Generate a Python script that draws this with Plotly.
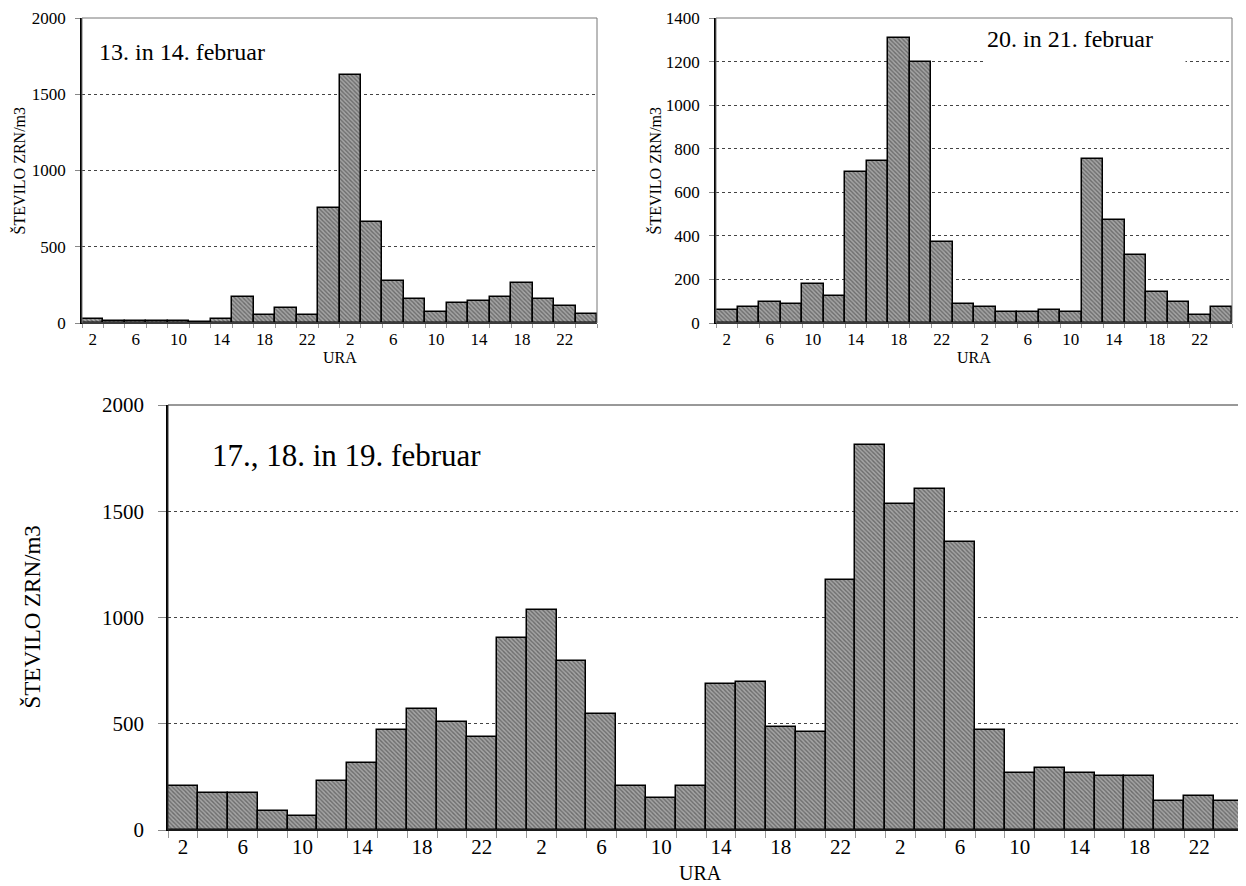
import plotly.graph_objects as go

OFF = 8  # page body margin
W, H = 1246 - OFF, 886 - OFF

hours_2day = [2, 4, 6, 8, 10, 12, 14, 16, 18, 20, 22, 24] * 2
hours_3day = [2, 4, 6, 8, 10, 12, 14, 16, 18, 20, 22, 24] * 3

feb13_14 = [28, 13, 13, 13, 13, 4, 28, 173, 52, 100, 52, 757,
            1628, 663, 278, 160, 74, 133, 147, 173, 265, 160, 114, 61]
feb20_21 = [61, 75, 98, 87, 181, 123, 695, 745, 1307, 1199, 374, 88,
            74, 51, 51, 61, 51, 755, 471, 314, 144, 98, 38, 75]
feb17_19 = [207, 173, 173, 88, 64, 231, 314, 471, 568, 507, 436, 902,
            1034, 794, 546, 207, 149, 207, 686, 698, 483, 460, 1176, 1810,
            1536, 1606, 1355, 471, 267, 290, 267, 256, 256, 135, 158, 135]

titles = ["13. in 14. februar", "20. in 21. februar", "17., 18. in 19. februar"]
y_title = "ŠTEVILO ZRN/m3"
x_title = "URA"

FONT = "Liberation Serif, Times New Roman, serif"


def px_x(p):
    return (p - OFF) / W


def px_y(p):
    return 1 - (p - OFF) / H


panels = [
    dict(vals=feb13_14, hours=hours_2day, xd=[82, 597], yd=[18, 323], ymax=2000, dtick=500,
         fs=17, tl=1, mtl=4, xso=0, title_pos=(97, 52), title_fs=24, ytitle_x=18, xtitle_y=357,
         ytitle_fs=16, xtitle_fs=16, border="#777"),
    dict(vals=feb20_21, hours=hours_2day, xd=[716, 1232], yd=[18, 323], ymax=1400, dtick=200,
         fs=17, tl=1, mtl=4, xso=0, title_pos=(984, 38), title_fs=24, ytitle_x=654, xtitle_y=357,
         ytitle_fs=16, xtitle_fs=16, border="#777"),
    dict(vals=feb17_19, hours=hours_3day, xd=[168, 1244], yd=[405, 830], ymax=2000, dtick=500,
         fs=21, tl=1, mtl=7, xso=-3, title_pos=(210, 455), title_fs=31, ytitle_x=31, xtitle_y=873,
         ytitle_fs=23, xtitle_fs=20, border="#333"),
]

fig = go.Figure()
annotations = []
shapes = []

for k, p in enumerate(panels):
    idx = "" if k == 0 else str(k + 1)
    xa, ya = "x" + idx, "y" + idx
    n = len(p["vals"])
    pos = list(range(1, n + 1))
    fig.add_trace(go.Bar(
        x=pos, y=p["vals"], xaxis=xa, yaxis=ya, width=1.0,
        marker=dict(color="#949494", line=dict(color="black", width=1.5),
                    pattern=dict(shape="\\", fgcolor="#333333", bgcolor="#a4a4a4",
                                 size=3, solidity=0.45)),
        showlegend=False, hoverinfo="x+y"))
    tickvals = [i for i in pos if i % 2 == 1]
    ticktext = [str(p["hours"][i - 1]) for i in tickvals]
    xkey = "xaxis" + idx
    ykey = "yaxis" + idx
    fig.update_layout(**{
        xkey: dict(domain=[px_x(p["xd"][0]), px_x(p["xd"][1])], anchor=ya, automargin=False,
                   range=[0.5, n + 0.5], tickmode="array", tickvals=tickvals, ticktext=ticktext,
                   ticks="outside", ticklen=p["tl"], tickcolor="rgba(0,0,0,0)",
                   ticklabelstandoff=p["xso"],
                   minor=dict(tickmode="array", tickvals=[i + 0.5 for i in range(0, n + 1)],
                              ticks="outside", ticklen=p["mtl"], tickcolor="#999", tickwidth=1,
                              showgrid=False),
                   showgrid=False, zeroline=False, showline=True, linecolor="black", linewidth=1,
                   tickfont=dict(family=FONT, size=p["fs"], color="black"), fixedrange=True),
        ykey: dict(domain=[px_y(p["yd"][1]), px_y(p["yd"][0])], anchor=xa, automargin=False,
                   range=[0, p["ymax"]], dtick=p["dtick"], tick0=0,
                   ticks="outside", ticklen=5 if k < 2 else 8, tickcolor="#888", tickwidth=1,
                   ticklabelstandoff=6 if k < 2 else 10,
                   showgrid=True, gridcolor="#444", griddash="dot", gridwidth=1,
                   zeroline=False, showline=True, linecolor="black", linewidth=1.5,
                   tickfont=dict(family=FONT, size=p["fs"], color="black"), fixedrange=True),
    })
    # box border
    shapes.append(dict(type="rect", xref=xa + " domain", yref=ya + " domain",
                       x0=0, x1=1, y0=0, y1=1, line=dict(color=p["border"], width=1),
                       layer="above"))
    # chart title inside
    ann = dict(text=titles[k], xref="paper", yref="paper",
               x=px_x(p["title_pos"][0]), y=px_y(p["title_pos"][1]),
               xanchor="left", yanchor="middle", showarrow=False,
               font=dict(family=FONT, size=p["title_fs"], color="black"))
    if k == 1:
        ann.update(bgcolor="white", width=196, align="left", borderpad=2, height=42,
                   valign="top", yanchor="top", y=px_y(23))
    annotations.append(ann)
    # axis titles
    annotations.append(dict(text=y_title, xref="paper", yref="paper",
                            x=px_x(p["ytitle_x"]), y=px_y((p["yd"][0] + p["yd"][1]) / 2),
                            textangle=-90, showarrow=False, xanchor="center", yanchor="middle",
                            font=dict(family=FONT, size=p["ytitle_fs"], color="black")))
    annotations.append(dict(text=x_title, xref="paper", yref="paper",
                            x=px_x((p["xd"][0] + p["xd"][1]) / 2 - (6 if k == 2 else 0)),
                            y=px_y(p["xtitle_y"]),
                            showarrow=False, xanchor="center", yanchor="middle",
                            font=dict(family=FONT, size=p["xtitle_fs"], color="black")))

fig.update_layout(width=W, height=H, autosize=False,
                  margin=dict(l=0, r=0, t=0, b=0, pad=0, autoexpand=False),
                  paper_bgcolor="white", plot_bgcolor="white",
                  bargap=0, annotations=annotations, shapes=shapes,
                  font=dict(family=FONT, color="black"))

fig.write_html("out.html", config={"displayModeBar": False})
